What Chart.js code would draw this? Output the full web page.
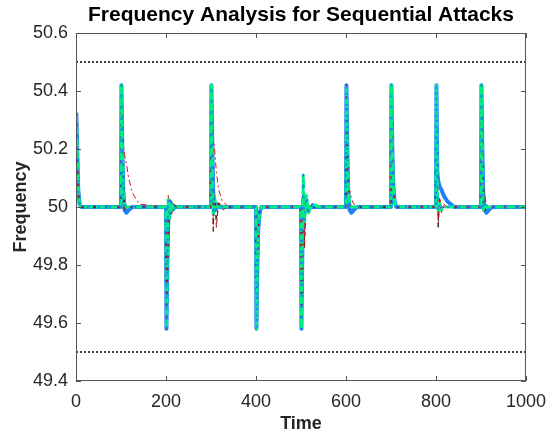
<!DOCTYPE html>
<html lang="en">
<head>
    <meta charset="UTF-8">
    <title>Frequency Analysis for Sequential Attacks</title>
    <style>
        body { margin: 0; background: #fff; }
        #wrap { width: 556px; height: 439px; }
    </style>
    <script src="https://cdn.jsdelivr.net/npm/chart.js"></script>
</head>
<body>
    <div id="wrap">
        <canvas id="freqChart" width="556" height="439"></canvas>
    </div>

    <script>
        // time samples (10 attacks, dense around each event)
        const time = [
            0, 1, 3, 5, 8, 12, 17, 25, 40,
            100, 101, 103, 105, 108, 112, 117, 125, 140,
            200, 201, 203, 205, 208, 212, 217, 225, 240,
            300, 301, 303, 305, 308, 312, 317, 325, 340,
            400, 401, 403, 405, 408, 412, 417, 425, 440,
            500, 501, 503, 505, 508, 512, 517, 525, 540,
            600, 601, 603, 605, 608, 612, 617, 625, 640,
            700, 701, 703, 705, 708, 712, 717, 725, 740,
            800, 801, 803, 805, 808, 812, 817, 825, 840,
            900, 901, 903, 905, 908, 912, 917, 925, 940,
            1000
        ];

        const blueFreq = [
            50.32, 50.31, 50.18, 50.06, 50.01, 50, 50, 50, 50,
            50, 50.42, 50.2, 50.06, 49.99, 49.98, 49.99, 50, 50,
            50, 49.58, 49.8, 49.95, 50.02, 50.01, 50, 50, 50,
            50, 50.42, 50.2, 50.05, 49.99, 50.01, 50, 50, 50,
            50, 49.58, 49.8, 49.92, 49.98, 50, 50, 50, 50,
            50, 49.58, 49.85, 50.03, 50, 49.99, 50, 50, 50,
            50, 50.42, 50.2, 50.05, 49.99, 49.98, 49.99, 50, 50,
            50, 50.42, 50.2, 50.08, 50.02, 50, 50, 50, 50,
            50, 50.42, 50.12, 50.09, 50.07, 50.06, 50.04, 50.02, 50,
            50, 50.42, 50.2, 50.05, 49.99, 49.98, 49.99, 50, 50,
            50
        ];

        const greenFreq = [
            50.32, 50.31, 50.18, 50.06, 50.01, 50, 50, 50, 50,
            50, 50.42, 50.18, 50.05, 50.01, 50, 50, 50, 50,
            50, 49.58, 49.8, 50.03, 49.96, 50.02, 49.99, 50, 50,
            50, 50.42, 50.15, 49.97, 50.03, 49.99, 50.01, 50, 50,
            50, 49.58, 49.8, 49.92, 49.98, 50, 50, 50, 50,
            50, 49.58, 49.9, 50.11, 49.95, 50.04, 49.98, 50.01, 50,
            50, 50.42, 50.2, 50.06, 50.01, 50, 50, 50, 50,
            50, 50.42, 50.2, 50.08, 50.02, 50, 50, 50, 50,
            50, 50.42, 50.05, 49.98, 50.02, 49.99, 50, 50, 50,
            50, 50.42, 50.12, 49.99, 50.01, 50, 50, 50, 50,
            50
        ];

        const redFreq = [
            50.32, 50.31, 50.18, 50.06, 50.01, 50, 50, 50, 50,
            50, 50.42, 50.3, 50.22, 50.18, 50.15, 50.1, 50.05, 50.01,
            50, 49.58, 49.8, 50.04, 49.95, 50.02, 49.99, 50, 50,
            50, 50.42, 50.3, 50.24, 50.2, 50.12, 50.06, 50.02, 50,
            50, 49.58, 49.8, 49.92, 49.98, 50, 50, 50, 50,
            50, 49.58, 49.82, 50.05, 49.9, 50.03, 49.98, 50.01, 50,
            50, 50.42, 50.15, 50.11, 50.06, 50.03, 50.01, 50, 50,
            50, 50.42, 50.2, 50.08, 50.02, 50, 50, 50, 50,
            50, 50.42, 50.2, 49.96, 50.03, 49.98, 50.01, 50, 50,
            50, 50.42, 50.18, 50.1, 50.04, 50.01, 50, 50, 50,
            50
        ];

        const darkRedFreq = [
            50.32, 50.31, 50.18, 50.06, 50.01, 50, 50, 50, 50,
            50, 50.42, 50.12, 50.04, 49.99, 50, 50, 50, 50,
            50, 49.58, 49.75, 49.85, 50.02, 49.97, 50.01, 50, 50,
            50, 50.42, 50.05, 49.91, 50.04, 49.93, 50.02, 49.99, 50,
            50, 49.58, 49.8, 49.92, 49.98, 50, 50, 50, 50,
            50, 49.58, 49.8, 50.06, 49.86, 50.04, 49.98, 50.01, 50,
            50, 50.42, 50.18, 50.06, 50.02, 50, 50, 50, 50,
            50, 50.42, 50.2, 50.08, 50.02, 50, 50, 50, 50,
            50, 50.42, 50.08, 49.94, 50.02, 49.98, 50.01, 50, 50,
            50, 50.42, 50.2, 50.06, 49.98, 50.01, 50, 50, 50,
            50
        ];

        const blackFreq = [
            50.32, 50.31, 50.18, 50.06, 50.01, 50, 50, 50, 50,
            50, 50.42, 50.15, 50.03, 50.02, 50, 50, 50, 50,
            50, 49.58, 49.78, 49.9, 50.03, 49.98, 50.01, 50, 50,
            50, 50.42, 50.1, 49.94, 50.03, 49.96, 50.01, 50, 50,
            50, 49.58, 49.8, 49.92, 49.98, 50, 50, 50, 50,
            50, 49.58, 49.85, 50.08, 49.96, 50.02, 50, 50, 50,
            50, 50.42, 50.2, 50.07, 50.01, 50, 50, 50, 50,
            50, 50.42, 50.2, 50.08, 50.02, 50, 50, 50, 50,
            50, 50.42, 50.12, 49.93, 50.03, 49.99, 50, 50, 50,
            50, 50.42, 50.19, 50.08, 49.99, 50, 50, 50, 50,
            50
        ];

        // frequency limits (dotted lines)
        const limitTime = [0, 1000];
        const upperLimit = [50.5, 50.5];
        const lowerLimit = [49.5, 49.5];

        const xTicks = [0, 200, 400, 600, 800, 1000];
        const yTicks = [49.4, 49.6, 49.8, 50, 50.2, 50.4, 50.6];

        const FONT = "'Liberation Sans', Arial, Helvetica, sans-serif";
        const AXIS_COLOR = '#262626';

        function toPoints(xs, ys) {
            return xs.map((x, i) => ({ x: x, y: ys[i] }));
        }

        function lineSet(label, ys, color, width, dash, order) {
            return {
                label: label,
                data: toPoints(time, ys),
                borderColor: color,
                borderWidth: width,
                borderDash: dash,
                borderJoinStyle: 'round',
                borderCapStyle: 'butt',
                pointRadius: 0,
                tension: 0,
                fill: false,
                order: order
            };
        }

        // MATLAB style box with inward ticks
        const boxPlugin = {
            id: 'boxPlugin',
            afterDatasetsDraw(chart) {
                const { ctx, chartArea: a, scales } = chart;
                const len = 5;
                ctx.save();
                ctx.strokeStyle = '#555';
                ctx.lineWidth = 1;
                ctx.beginPath();
                ctx.rect(a.left + 0.5, a.top + 0.5, a.right - a.left - 1, a.bottom - a.top - 1);
                xTicks.forEach(v => {
                    const px = Math.round(scales.x.getPixelForValue(v)) + 0.5;
                    ctx.moveTo(px, a.bottom); ctx.lineTo(px, a.bottom - len);
                    ctx.moveTo(px, a.top); ctx.lineTo(px, a.top + len);
                });
                yTicks.forEach(v => {
                    const py = Math.round(scales.y.getPixelForValue(v)) + 0.5;
                    ctx.moveTo(a.left, py); ctx.lineTo(a.left + len, py);
                    ctx.moveTo(a.right, py); ctx.lineTo(a.right - len, py);
                });
                ctx.stroke();
                ctx.restore();
            }
        };

        new Chart(document.getElementById('freqChart'), {
            type: 'line',
            data: {
                datasets: [
                    lineSet('blue', blueFreq, '#1f7fff', 4, [], 6),
                    lineSet('black', blackFreq, '#2a1a3a', 1, [7, 3, 2, 3], 5),
                    lineSet('dark red', darkRedFreq, '#8b1010', 1, [5, 3], 4),
                    lineSet('red', redFreq, '#e01010', 1, [6, 3, 2, 3], 3),
                    lineSet('green', greenFreq, '#00ee80', 3, [9, 3], 2),
                    lineSet('blue dots', greenFreq, '#1f7fff', 2, [2, 9], 1),
                    {
                        label: 'upper limit',
                        data: toPoints(limitTime, upperLimit),
                        borderColor: '#000',
                        borderWidth: 1.5,
                        borderDash: [2, 2],
                        pointRadius: 0,
                        order: 0
                    },
                    {
                        label: 'lower limit',
                        data: toPoints(limitTime, lowerLimit),
                        borderColor: '#000',
                        borderWidth: 1.5,
                        borderDash: [2, 2],
                        pointRadius: 0,
                        order: 0
                    }
                ]
            },
            options: {
                responsive: false,
                animation: false,
                events: [],
                layout: { padding: { left: 0, right: 27, top: 0, bottom: 0 } },
                plugins: {
                    legend: { display: false },
                    tooltip: { enabled: false },
                    title: {
                        display: true,
                        fullSize: false,
                        text: 'Frequency Analysis for Sequential Attacks',
                        color: '#000',
                        font: { family: FONT, size: 21, weight: 'bold', lineHeight: 1.2 },
                        padding: { top: 3, bottom: 4.8 }
                    }
                },
                scales: {
                    x: {
                        type: 'linear',
                        min: 0,
                        max: 1000,
                        afterBuildTicks: s => { s.ticks = xTicks.map(v => ({ value: v })); },
                        afterFit: s => { s.height = 58; },
                        grid: { display: false, drawTicks: false },
                        border: { display: false },
                        ticks: {
                            color: AXIS_COLOR,
                            font: { family: FONT, size: 18 },
                            maxRotation: 0,
                            padding: 10,
                            callback: v => String(v)
                        },
                        title: {
                            display: true,
                            text: 'Time',
                            color: AXIS_COLOR,
                            font: { family: FONT, size: 18, weight: 'bold', lineHeight: 1.2 },
                            padding: { top: 0, bottom: 4 }
                        }
                    },
                    y: {
                        min: 49.4,
                        max: 50.6,
                        afterBuildTicks: s => { s.ticks = yTicks.map(v => ({ value: v })); },
                        afterFit: s => { s.width = 76; },
                        grid: { display: false, drawTicks: false },
                        border: { display: false },
                        ticks: {
                            color: AXIS_COLOR,
                            font: { family: FONT, size: 18 },
                            padding: 8,
                            callback: v => String(Math.round(v * 10) / 10)
                        },
                        title: {
                            display: true,
                            text: 'Frequency',
                            color: AXIS_COLOR,
                            font: { family: FONT, size: 18, weight: 'bold', lineHeight: 1.2 },
                            padding: { top: 10, bottom: 0 }
                        }
                    }
                }
            },
            plugins: [boxPlugin]
        });
    </script>
</body>
</html>
